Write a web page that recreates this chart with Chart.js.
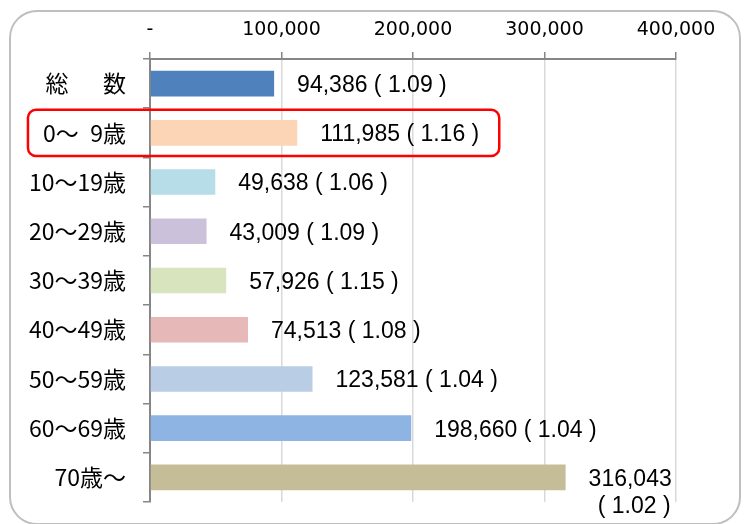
<!DOCTYPE html>
<html>
<head>
<meta charset="utf-8">
<script src="https://cdn.jsdelivr.net/npm/chart.js@4.4.1/dist/chart.umd.min.js"></script>
<style>
  html, body { margin: 0; padding: 0; background: #fff; }
  #wrap { position: relative; width: 746px; height: 524px; }
  #frame { position: absolute; left: 9px; top: 10px; width: 728px; height: 511px;
           border: 2px solid #BFBFBF; border-radius: 28px; pointer-events: none; }
  canvas { position: absolute; left: 0; top: 0; }
</style>
</head>
<body>
<div id="wrap">
  <canvas id="c" width="746" height="524"></canvas>
  <div id="frame"></div>
</div>
<script>
// ---- data ----
const categories = ["総\u3000\u2002数", "0〜\u20029歳", "10〜19歳", "20〜29歳", "30〜39歳", "40〜49歳", "50〜59歳", "60〜69歳", "70歳〜"];
const counts = [94386, 111985, 49638, 43009, 57926, 74513, 123581, 198660, 316043];
const ratios = ["1.09", "1.16", "1.06", "1.09", "1.15", "1.08", "1.04", "1.04", "1.02"];
const barColors = ["#4F81BD", "#FBD5B5", "#B7DDE8", "#CCC1DA", "#D7E4BD", "#E6B9B8", "#B9CDE5", "#8EB4E3", "#C4BD97"];
const xTicks = [0, 100000, 200000, 300000, 400000];
const highlightIndex = 1;

const valueFont = '23px "Liberation Sans", Arial, sans-serif';
const catFont = '23px "Noto Sans CJK JP", sans-serif';
const fmt = v => v.toLocaleString('en-US');

const labelPlugin = {
  id: 'valueLabels',
  afterDatasetsDraw(chart) {
    const ctx = chart.ctx;
    const meta = chart.getDatasetMeta(0);
    ctx.save();
    ctx.font = valueFont;
    ctx.fillStyle = '#000';
    ctx.textBaseline = 'middle';
    ctx.textAlign = 'left';
    chart._labelEnds = [];
    meta.data.forEach((bar, i) => {
      const x = bar.x + 23;
      const y = bar.y + 2;
      const main = fmt(counts[i]);
      const paren = '( ' + ratios[i] + ' )';
      const full = main + ' ' + paren;
      const w = ctx.measureText(full).width;
      if (x + w > chart.width - 8) {
        const w1 = ctx.measureText(main).width;
        const w2 = ctx.measureText(paren).width;
        ctx.fillText(main, x, y);
        ctx.fillText(paren, x + w1 / 2 - w2 / 2 + 4, y + 27);
        chart._labelEnds[i] = x + w1;
      } else {
        ctx.fillText(full, x, y);
        chart._labelEnds[i] = x + w;
      }
    });
    ctx.restore();
  },
  afterDraw(chart) {
    const ctx = chart.ctx;
    const ys = chart.scales.y;
    const band = ys.getPixelForValue(1) - ys.getPixelForValue(0);
    const cy = ys.getPixelForValue(highlightIndex);
    ctx.save();
    ctx.font = catFont;
    const lw = ctx.measureText(categories[highlightIndex]).width;
    const labelRight = ys.right - 7 - 17;
    const left = labelRight - lw - 15;
    const right = chart._labelEnds[highlightIndex] + 20;
    const top = cy - band * 0.47;
    const h = band * 0.94;
    ctx.strokeStyle = '#FF0000';
    ctx.lineWidth = 2.5;
    ctx.beginPath();
    ctx.roundRect(left, top, right - left, h, 8);
    ctx.stroke();
    ctx.restore();
  }
};

new Chart(document.getElementById('c'), {
  type: 'bar',
  data: {
    labels: categories,
    datasets: [{
      data: counts,
      backgroundColor: barColors,
      borderWidth: 0,
      categoryPercentage: 1.0,
      barPercentage: 0.52
    }]
  },
  options: {
    indexAxis: 'y',
    responsive: false,
    animation: false,
    devicePixelRatio: 1,
    layout: { padding: { left: 0, right: 70, top: 0, bottom: 22 } },
    plugins: { legend: { display: false }, tooltip: { enabled: false } },
    scales: {
      x: {
        position: 'top',
        min: 0, max: 400000,
        afterBuildTicks: s => { s.ticks = xTicks.map(v => ({ value: v })); },
        afterFit: s => { s.height = 59; s.paddingLeft = 0; s.paddingRight = 0; },
        ticks: {
          padding: 11,
          color: '#000',
          font: { family: '"DejaVu Sans", sans-serif', size: 19 },
          maxRotation: 0,
          callback: v => v === 0 ? '-' : fmt(v)
        },
        grid: { color: '#D9D9D9', lineWidth: 1.5, tickColor: '#868686', tickLength: 7 },
        border: { color: '#868686', width: 2 }
      },
      y: {
        afterFit: s => { s.width = 150; s.paddingTop = 0; s.paddingBottom = 0; },
        ticks: {
          padding: 17,
          color: '#000',
          font: { family: '"Noto Sans CJK JP", sans-serif', size: 23 }
        },
        grid: { drawOnChartArea: false, color: '#868686', tickLength: 7, lineWidth: 1.5, offset: true },
        border: { color: '#868686', width: 2 }
      }
    }
  },
  plugins: [labelPlugin]
});
</script>
</body>
</html>
